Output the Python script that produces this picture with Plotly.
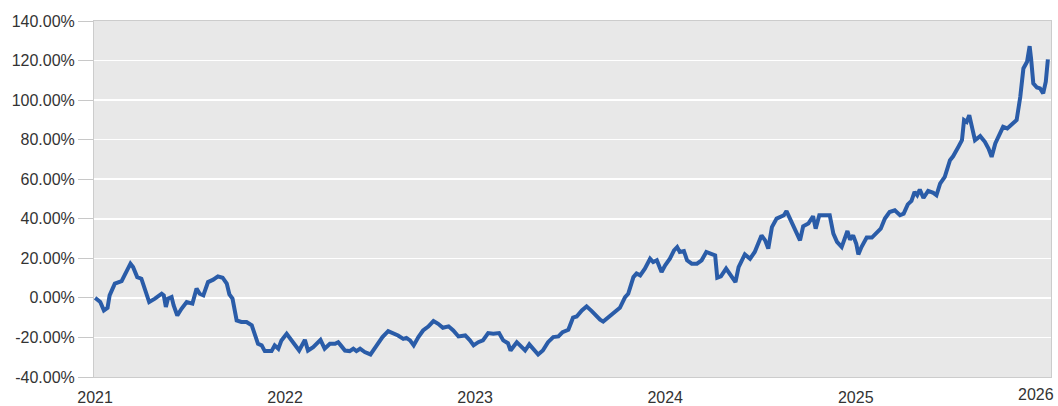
import plotly.graph_objects as go

dates = [
    "2021-01-01", "2021-01-11", "2021-01-18", "2021-01-25", "2021-01-29", "2021-02-08", "2021-02-21", "2021-02-27",
    "2021-03-10", "2021-03-15", "2021-03-23", "2021-03-31", "2021-04-07", "2021-04-15", "2021-04-26", "2021-05-09",
    "2021-05-13", "2021-05-17", "2021-05-21", "2021-05-28", "2021-06-01", "2021-06-08", "2021-06-16", "2021-06-26",
    "2021-07-07", "2021-07-15", "2021-07-21", "2021-07-28", "2021-08-06", "2021-08-16", "2021-08-25", "2021-09-03",
    "2021-09-11", "2021-09-16", "2021-09-22", "2021-09-30", "2021-10-09", "2021-10-19", "2021-10-29", "2021-11-04",
    "2021-11-10", "2021-11-17", "2021-11-23", "2021-12-06", "2021-12-12", "2021-12-19", "2021-12-25",
    "2022-01-04", "2022-01-14", "2022-01-20", "2022-01-28", "2022-02-08", "2022-02-14", "2022-02-24", "2022-03-10",
    "2022-03-18", "2022-03-28", "2022-04-07", "2022-04-13", "2022-04-18", "2022-04-26", "2022-05-05", "2022-05-12",
    "2022-05-18", "2022-05-25", "2022-06-03", "2022-06-14", "2022-06-26", "2022-07-07", "2022-07-18", "2022-07-28",
    "2022-08-06", "2022-08-16", "2022-08-22", "2022-08-29", "2022-09-05", "2022-09-14", "2022-09-23", "2022-10-03",
    "2022-10-13", "2022-10-22", "2022-10-31", "2022-11-11", "2022-11-20", "2022-11-30", "2022-12-13", "2022-12-22",
    "2022-12-29",
    "2023-01-07", "2023-01-16", "2023-01-26", "2023-02-05", "2023-02-16", "2023-02-24", "2023-03-05", "2023-03-10",
    "2023-03-22", "2023-03-31", "2023-04-07", "2023-04-15", "2023-04-23", "2023-05-02", "2023-05-11", "2023-05-21",
    "2023-05-31", "2023-06-10", "2023-06-18", "2023-06-29", "2023-07-08", "2023-07-15", "2023-07-25", "2023-08-03",
    "2023-08-13", "2023-08-22", "2023-08-29", "2023-09-04", "2023-09-11", "2023-09-23", "2023-10-06", "2023-10-16",
    "2023-10-22", "2023-11-01", "2023-11-07", "2023-11-14", "2023-11-23", "2023-12-03", "2023-12-09", "2023-12-16",
    "2023-12-25",
    "2024-01-01", "2024-01-10", "2024-01-18", "2024-01-24", "2024-01-29", "2024-02-06", "2024-02-12", "2024-02-21",
    "2024-03-02", "2024-03-11", "2024-03-20", "2024-03-27", "2024-04-06", "2024-04-10", "2024-04-17", "2024-04-27",
    "2024-05-05", "2024-05-15", "2024-05-21", "2024-05-27", "2024-06-02", "2024-06-12", "2024-06-21", "2024-07-04",
    "2024-07-11", "2024-07-17", "2024-07-24", "2024-08-02", "2024-08-12", "2024-08-16", "2024-08-21", "2024-08-28",
    "2024-09-06", "2024-09-16", "2024-09-22", "2024-10-02", "2024-10-11", "2024-10-16", "2024-10-23", "2024-11-03",
    "2024-11-12", "2024-11-19", "2024-11-26", "2024-12-05", "2024-12-11", "2024-12-16", "2024-12-21", "2024-12-27",
    "2025-01-02", "2025-01-06", "2025-01-12", "2025-01-22", "2025-02-01", "2025-02-10", "2025-02-18", "2025-02-26",
    "2025-03-07", "2025-03-17", "2025-03-27", "2025-04-03", "2025-04-11", "2025-04-18", "2025-04-24", "2025-04-29",
    "2025-05-04", "2025-05-11", "2025-05-20", "2025-05-30", "2025-06-05", "2025-06-12", "2025-06-21", "2025-07-01",
    "2025-07-07", "2025-07-17", "2025-07-24", "2025-07-28", "2025-08-02", "2025-08-07", "2025-08-14", "2025-08-18",
    "2025-08-28", "2025-09-06", "2025-09-13", "2025-09-19", "2025-09-26", "2025-10-05", "2025-10-11", "2025-10-19",
    "2025-10-30", "2025-11-06", "2025-11-13", "2025-11-19", "2025-11-26", "2025-12-01", "2025-12-04", "2025-12-08",
    "2025-12-15", "2025-12-21", "2025-12-27", "2026-01-01", "2026-01-05",
]

returns_pct = [
    0.0, -2.1, -6.3, -5.0, 1.3, 7.2, 8.5, 11.4,
    17.3, 15.6, 10.5, 9.7, 4.7, -2.1, -0.4, 2.1,
    1.3, -4.6, -0.4, 0.4, -3.8, -8.9, -5.5, -2.1,
    -2.9, 4.7, 2.1, 1.3, 8.0, 9.2, 10.9, 10.2,
    7.2, 1.8, -0.4, -11.4, -12.2, -12.2, -13.9, -19.0,
    -23.2, -24.0, -26.9, -26.9, -24.0, -25.7, -21.5,
    -18.1, -21.5, -23.2, -26.6, -21.2, -26.6, -24.9, -21.2,
    -25.7, -23.2, -23.2, -22.4, -24.0, -26.6, -26.9, -25.7,
    -26.9, -25.7, -27.4, -28.6, -24.0, -19.8, -16.8, -17.8,
    -19.0, -20.7, -20.2, -21.5, -24.0, -19.8, -16.5, -14.5,
    -11.7, -13.1, -15.1, -14.4, -16.5, -19.5, -19.0, -21.5,
    -24.0,
    -22.4, -21.5, -17.8, -18.1, -17.8, -21.5, -22.9, -26.6,
    -22.4, -24.9, -26.6, -23.5, -26.2, -28.6, -26.6, -22.4,
    -19.8, -19.5, -17.3, -16.1, -10.0, -9.4, -6.3, -4.3,
    -6.7, -9.4, -11.0, -12.0, -10.4, -8.0, -5.0, 0.4,
    2.1, 10.5, 12.3, 11.4, 14.8, 19.8, 18.1, 19.0,
    13.1,
    16.5, 19.8, 24.0, 25.7, 23.2, 23.7, 19.0, 17.3,
    17.3, 19.0, 23.2, 22.7, 21.5, 10.2, 10.9, 14.8,
    11.4, 8.0, 15.6, 19.0, 22.0, 19.8, 23.2, 31.6,
    29.1, 24.9, 35.8, 40.1, 41.3, 41.8, 43.9, 40.1,
    35.0, 29.1, 36.2, 37.6, 41.3, 35.0, 41.8, 41.8,
    41.8, 32.5, 28.3, 25.7, 30.8, 33.8, 29.5, 31.6,
    27.4, 22.0, 25.7, 30.5, 30.5, 32.8, 35.0, 40.1,
    43.4, 44.3, 41.8, 42.6, 47.3, 49.0, 53.6, 51.9,
    54.8, 50.5, 54.1, 53.1, 51.9, 57.8, 61.2, 69.6,
    71.6, 76.3, 79.7, 89.9, 89.0, 92.4, 84.8, 79.7,
    81.8, 78.9, 75.5, 71.3, 78.1, 82.8, 86.5, 85.7,
    88.5, 89.9, 101.7, 116.0, 119.4, 127.3, 120.3, 108.5,
    106.4, 105.9, 103.4, 109.3, 120.6,
]

year_ticks = ["2021-01-01", "2022-01-01", "2023-01-01", "2024-01-01", "2025-01-01"]
year_labels = ["2021", "2022", "2023", "2024", "2025"]
last_year_tick = "2026-01-01"
last_year_label = "2026"

y_ticks = [-40, -20, 0, 20, 40, 60, 80, 100, 120, 140]
y_labels = [f"{v:.2f}%" for v in y_ticks]

FONT = "Liberation Sans, Arial, sans-serif"

fig = go.Figure()
fig.add_trace(go.Scatter(
    x=dates, y=returns_pct, mode="lines",
    line=dict(color="#2a5ca8", width=4),
    showlegend=False, hoverinfo="skip",
))

fig.update_layout(
    width=1058, height=406,
    margin=dict(l=94, r=7, t=21, b=29),
    paper_bgcolor="white",
    plot_bgcolor="#e8e8e8",
    font=dict(family=FONT, size=16, color="#333333"),
    xaxis=dict(
        type="date", automargin=False,
        range=["2020-12-30", "2026-01-11"],
        tickmode="array", tickvals=year_ticks, ticktext=year_labels,
        showgrid=False, zeroline=False,
        ticks="outside", ticklen=6, tickcolor="rgba(0,0,0,0)",
        showline=True, linecolor="#cccccc", linewidth=1, mirror=True,
        tickfont=dict(family=FONT, size=16, color="#333333"),
    ),
    yaxis=dict(
        automargin=False,
        range=[-40, 140],
        tickmode="array", tickvals=y_ticks, ticktext=y_labels,
        showgrid=True, gridcolor="#ffffff", gridwidth=1.5,
        zeroline=False,
        ticks="outside", ticklen=15, tickcolor="#c8c8c8", tickwidth=1,
        showline=True, linecolor="#cccccc", linewidth=1, mirror=True,
        tickfont=dict(family=FONT, size=16, color="#333333"),
    ),
)

fig.add_annotation(
    x=last_year_tick, xref="x", y=0, yref="paper",
    text=last_year_label, showarrow=False,
    xanchor="right", yanchor="top", xshift=10, yshift=-7,
    font=dict(family=FONT, size=16, color="#333333"),
)

fig.write_html(
    "out.html",
    config={"displayModeBar": False, "staticPlot": True},
    post_script="document.body.style.margin='0';document.body.style.overflow='hidden';",
)
